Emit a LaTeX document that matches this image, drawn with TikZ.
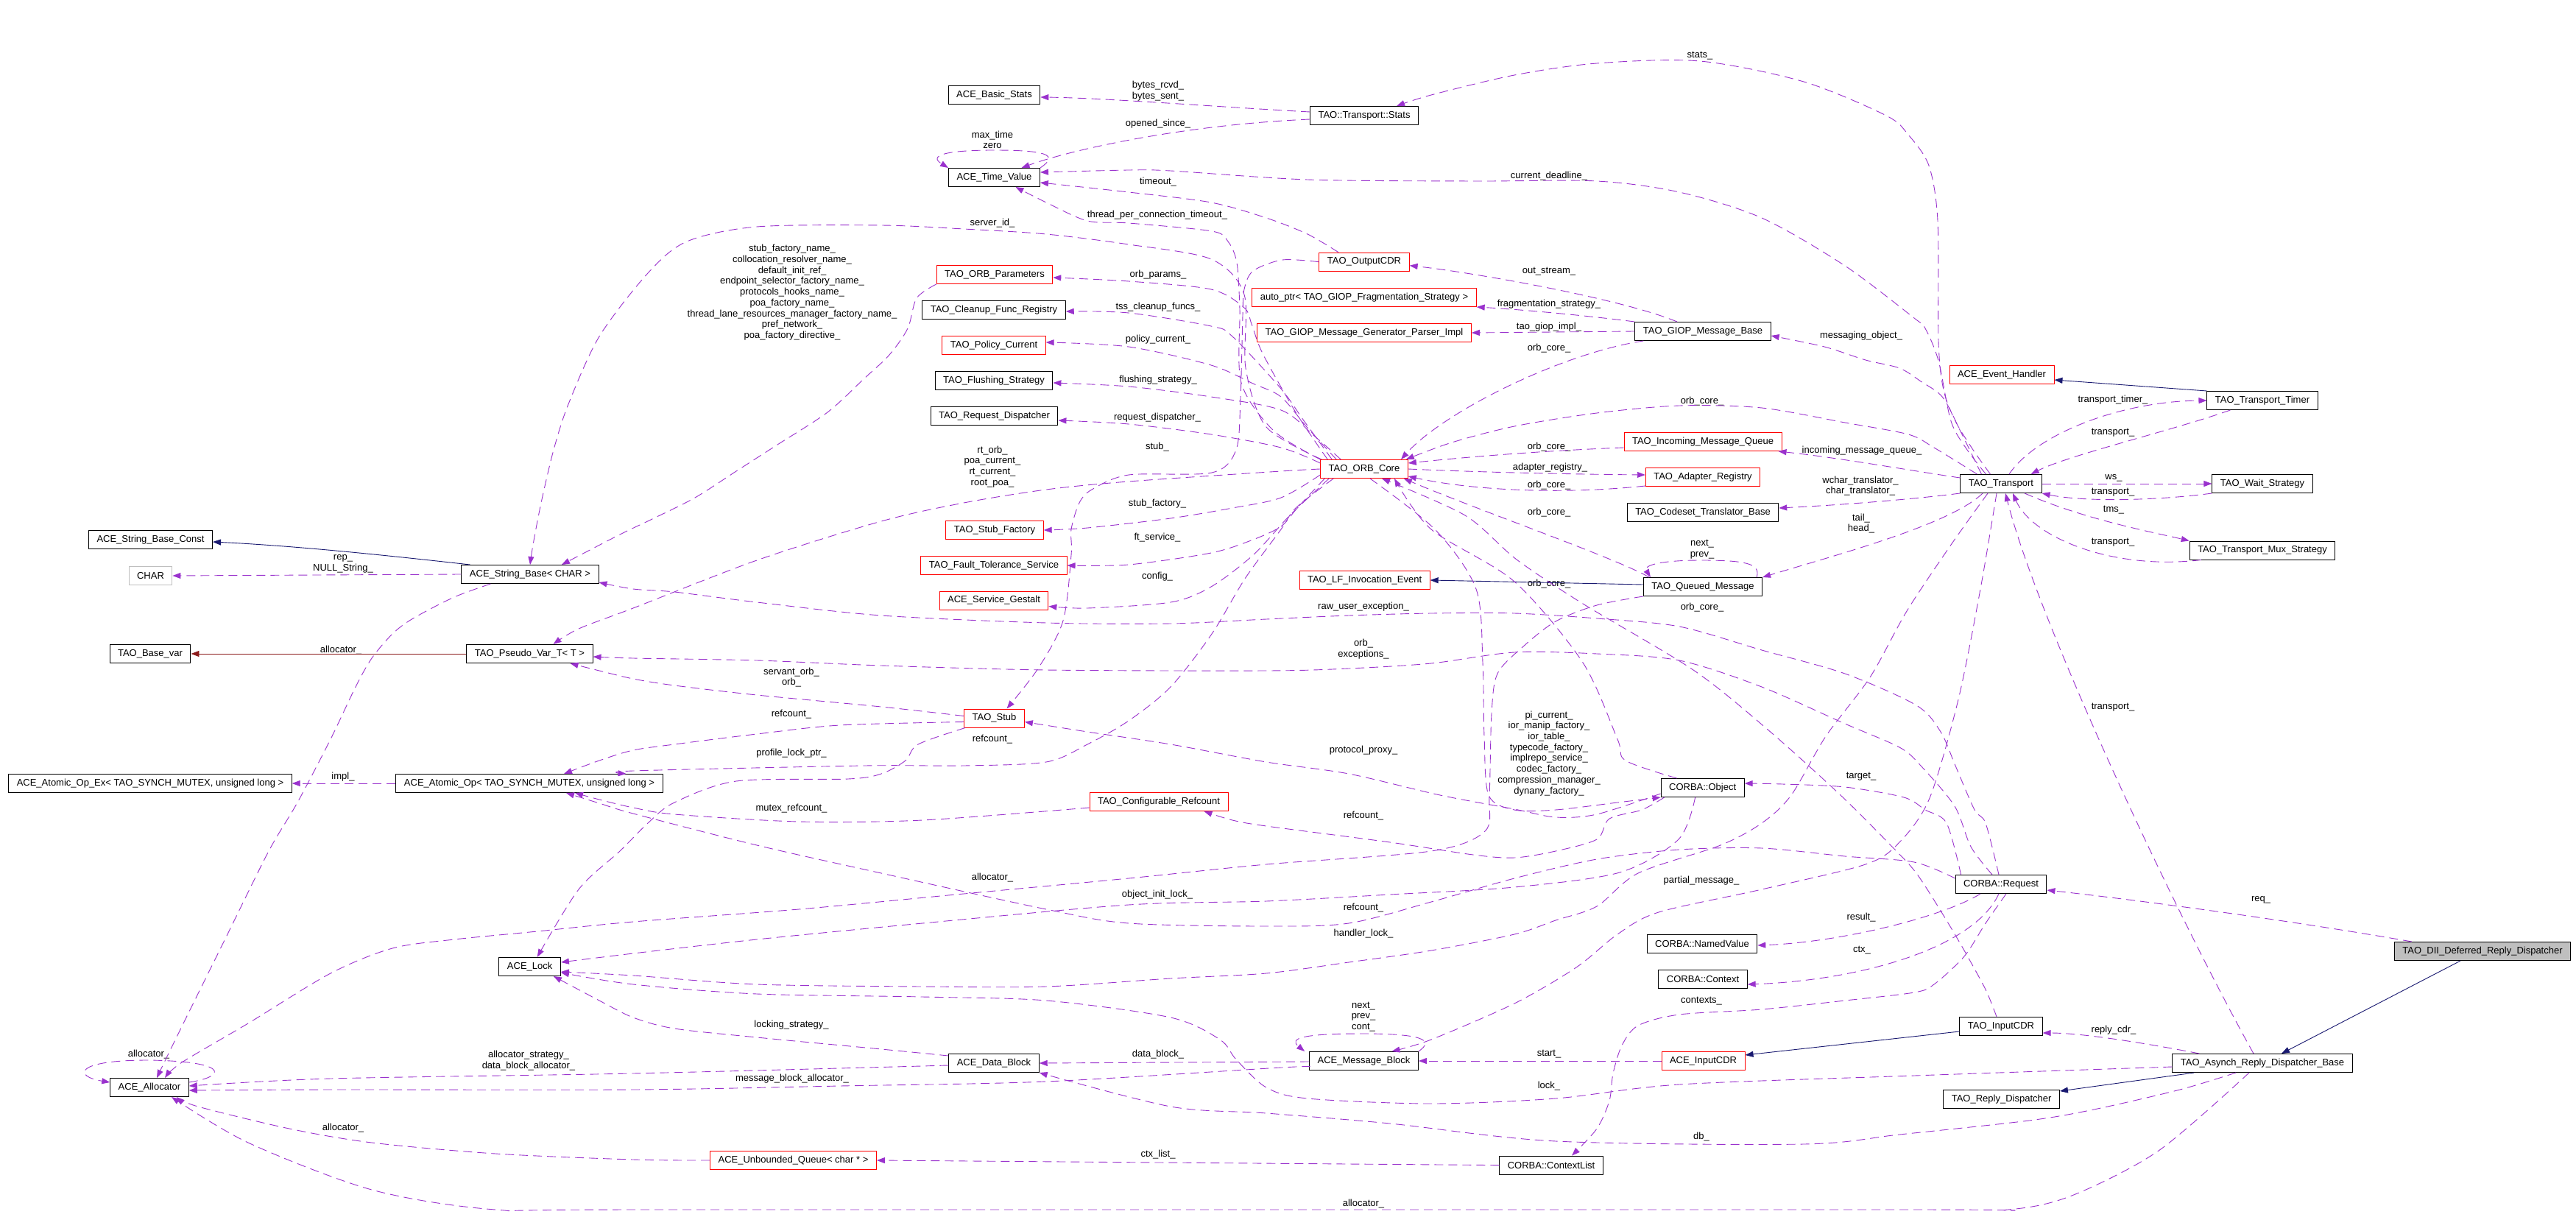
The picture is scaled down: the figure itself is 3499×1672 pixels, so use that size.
\documentclass[tikz,border=0pt]{standalone}
\usepackage{fontspec}
\setmainfont{Liberation Sans}
\usetikzlibrary{arrows.meta,calc}
\definecolor{edgepurple}{RGB}{154,50,205}
\definecolor{inheritblue}{RGB}{25,25,112}
\definecolor{privred}{RGB}{139,26,26}
\definecolor{grey75}{RGB}{191,191,191}

\begin{document}
\begin{tikzpicture}[
x=1pt,
y=-1pt,
every node/.style={font=\fontsize{13}{14.7}\selectfont},
cls/.style={draw=black, line width=1pt, minimum height=25pt, inner xsep=11pt, inner ysep=0pt},
redcls/.style={cls, draw=red},
greycls/.style={cls, draw=grey75},
rootcls/.style={cls, fill=grey75},
lbl/.style={inner sep=0pt, align=center},
member/.style={draw=edgepurple, line width=0.9pt, dash pattern=on 12pt off 7pt, -{Triangle[length=11pt,width=8pt]}},
inherit/.style={draw=inheritblue, line width=0.9pt, -{Triangle[length=11pt,width=8pt]}},
privinherit/.style={draw=privred, line width=0.9pt, -{Triangle[length=11pt,width=8pt]}}
]
\useasboundingbox (0,0) rectangle (3499,1672);

% classes
\node[cls] (strconst) at (204.5,733) {ACE\_String\_Base\_Const};
\node[greycls] (charnode) at (204.5,782) {CHAR};
\node[cls] (basevar) at (204,888) {TAO\_Base\_var};
\node[cls] (atomicex) at (204,1064) {ACE\_Atomic\_Op\_Ex< TAO\_SYNCH\_MUTEX, unsigned long >};
\node[cls] (allocator) at (203,1477) {ACE\_Allocator};

\node[cls] (strbase) at (720,780) {ACE\_String\_Base< CHAR >};
\node[cls] (pseudovar) at (719.5,888) {TAO\_Pseudo\_Var\_T< T >};
\node[cls] (atomic) at (719,1064) {ACE\_Atomic\_Op< TAO\_SYNCH\_MUTEX, unsigned long >};
\node[cls] (acelock) at (719.7,1313) {ACE\_Lock};
\node[redcls] (ubqueue) at (1077.5,1576) {ACE\_Unbounded\_Queue< char * >};

\node[cls] (basicstats) at (1350.5,129) {ACE\_Basic\_Stats};
\node[cls] (timevalue) at (1350.5,241) {ACE\_Time\_Value};
\node[redcls] (orbparams) at (1351,373) {TAO\_ORB\_Parameters};
\node[cls] (cleanup) at (1350,421) {TAO\_Cleanup\_Func\_Registry};
\node[redcls] (policycur) at (1350,469) {TAO\_Policy\_Current};
\node[cls] (flushing) at (1350,517) {TAO\_Flushing\_Strategy};
\node[cls] (reqdisp) at (1350.5,565) {TAO\_Request\_Dispatcher};
\node[redcls] (stubfact) at (1351,720) {TAO\_Stub\_Factory};
\node[redcls] (ftservice) at (1350,768) {TAO\_Fault\_Tolerance\_Service};
\node[redcls] (gestalt) at (1350,815.5) {ACE\_Service\_Gestalt};
\node[redcls] (stub) at (1350.5,975.5) {TAO\_Stub};
\node[redcls] (confref) at (1574,1089) {TAO\_Configurable\_Refcount};
\node[cls] (datablock) at (1350,1444) {ACE\_Data\_Block};

\node[cls] (tstats) at (1853,157) {TAO::Transport::Stats};
\node[redcls] (outcdr) at (1853,355.7) {TAO\_OutputCDR};
\node[redcls] (autoptr) at (1853,404) {auto\_ptr< TAO\_GIOP\_Fragmentation\_Strategy >};
\node[redcls] (genparser) at (1853,452) {TAO\_GIOP\_Message\_Generator\_Parser\_Impl};
\node[redcls] (orbcore) at (1853,637) {TAO\_ORB\_Core};
\node[redcls] (lfevent) at (1853.6,788) {TAO\_LF\_Invocation\_Event};
\node[cls] (msgblock) at (1852.5,1441) {ACE\_Message\_Block};

\node[cls] (giopbase) at (2313,450) {TAO\_GIOP\_Message\_Base};
\node[redcls] (incoming) at (2313,600) {TAO\_Incoming\_Message\_Queue};
\node[redcls] (adapter) at (2313,648) {TAO\_Adapter\_Registry};
\node[cls] (codeset) at (2313,696) {TAO\_Codeset\_Translator\_Base};
\node[cls] (queued) at (2313,797) {TAO\_Queued\_Message};
\node[cls] (corbaobj) at (2312.6,1070) {CORBA::Object};
\node[cls] (namedval) at (2312,1282) {CORBA::NamedValue};
\node[cls] (context) at (2313,1330) {CORBA::Context};
\node[redcls] (inputcdr) at (2313.5,1441) {ACE\_InputCDR};
\node[cls] (ctxlist) at (2107,1582.6) {CORBA::ContextList};

\node[redcls] (evhandler) at (2719,509) {ACE\_Event\_Handler};
\node[cls] (transport) at (2718,657) {TAO\_Transport};
\node[cls] (request) at (2718,1201) {CORBA::Request};
\node[cls] (taoinputcdr) at (2718,1394) {TAO\_InputCDR};
\node[cls] (replydisp) at (2718.6,1493) {TAO\_Reply\_Dispatcher};

\node[cls] (timer) at (3073,544) {TAO\_Transport\_Timer};
\node[cls] (waitstrat) at (3073,657) {TAO\_Wait\_Strategy};
\node[cls] (muxstrat) at (3073,747.5) {TAO\_Transport\_Mux\_Strategy};
\node[cls] (asynch) at (3073,1444) {TAO\_Asynch\_Reply\_Dispatcher\_Base};
\node[rootcls] (dii) at (3372,1292) {TAO\_DII\_Deferred\_Reply\_Dispatcher};

% edge labels
\node[lbl] (lstats) at (2309,76) {stats\_};
\node[lbl] (lbytes) at (1573,123.5) {bytes\_rcvd\_\\bytes\_sent\_};
\node[lbl] (lopened) at (1573,168) {opened\_since\_};
\node[lbl] (lmaxtime) at (1348,190) {max\_time\\zero};
\node[lbl] (ldeadline) at (2104,238.6) {current\_deadline\_};
\node[lbl] (ltimeout) at (1573,247.5) {timeout\_};
\node[lbl] (lthreadto) at (1572,291.8) {thread\_per\_connection\_timeout\_};
\node[lbl] (lserverid) at (1348,303.5) {server\_id\_};
\node[lbl] (lfactnames) at (1076,397.3) {stub\_factory\_name\_\\collocation\_resolver\_name\_\\default\_init\_ref\_\\endpoint\_selector\_factory\_name\_\\protocols\_hooks\_name\_\\poa\_factory\_name\_\\thread\_lane\_resources\_manager\_factory\_name\_\\pref\_network\_\\poa\_factory\_directive\_};
\node[lbl] (lorbparams) at (1573,373) {orb\_params\_};
\node[lbl] (loutstream) at (2104,368.5) {out\_stream\_};
\node[lbl] (ltss) at (1573,416.8) {tss\_cleanup\_funcs\_};
\node[lbl] (lfrag) at (2104,413) {fragmentation\_strategy\_};
\node[lbl] (lgiopimpl) at (2104,443.9) {tao\_giop\_impl\_};
\node[lbl] (lmessaging) at (2528,456) {messaging\_object\_};
\node[lbl] (lpolicy) at (1573,460.7) {policy\_current\_};
\node[lbl] (lcoregiop) at (2104,473.2) {orb\_core\_};
\node[lbl] (lflushing) at (1573,515.7) {flushing\_strategy\_};
\node[lbl] (ltimer) at (2870,543.5) {transport\_timer\_};
\node[lbl] (lcoretransport) at (2312,544.6) {orb\_core\_};
\node[lbl] (lreqdisp) at (1572,566.8) {request\_dispatcher\_};
\node[lbl] (ltrtimer) at (2870,587.5) {transport\_};
\node[lbl] (lcoreincoming) at (2104,606.8) {orb\_core\_};
\node[lbl] (lstub) at (1572,606.8) {stub\_};
\node[lbl] (lincoming) at (2529,611.7) {incoming\_message\_queue\_};
\node[lbl] (lrtorb) at (1348,633.7) {rt\_orb\_\\poa\_current\_\\rt\_current\_\\root\_poa\_};
\node[lbl] (ladapter) at (2105.5,635) {adapter\_registry\_};
\node[lbl] (lws) at (2871,649) {ws\_};
\node[lbl] (ltranslator) at (2527,660) {wchar\_translator\_\\char\_translator\_};
\node[lbl] (lcoreadapter) at (2104,658.6) {orb\_core\_};
\node[lbl] (ltrwait) at (2870,668.6) {transport\_};
\node[lbl] (lstubfact) at (1572,684.6) {stub\_factory\_};
\node[lbl] (ltms) at (2871,692.8) {tms\_};
\node[lbl] (lcorequeued) at (2104,695.7) {orb\_core\_};
\node[lbl] (ltailhead) at (2528,711) {tail\_\\head\_};
\node[lbl] (lft) at (1572,730.3) {ft\_service\_};
\node[lbl] (ltrmux) at (2870,736.8) {transport\_};
\node[lbl] (lqueuedloop) at (2312,745.8) {next\_\\prev\_};
\node[lbl] (lrep) at (466,765.6) {rep\_\\NULL\_String\_};
\node[lbl] (lconfig) at (1572,783.2) {config\_};
\node[lbl] (lcoreobj) at (2104,792.8) {orb\_core\_};
\node[lbl] (lrawexc) at (1852,824.6) {raw\_user\_exception\_};
\node[lbl] (lcorecdr) at (2312,824.6) {orb\_core\_};
\node[lbl] (lorbexc) at (1852,881.8) {orb\_\\exceptions\_};
\node[lbl] (lstralloc) at (463,882.8) {allocator\_};
\node[lbl] (lservant) at (1075,920) {servant\_orb\_\\orb\_};
\node[lbl] (ltrasynch) at (2870,960.7) {transport\_};
\node[lbl] (lrefstub) at (1075,970.3) {refcount\_};
\node[lbl] (lpicurrent) at (2104,1023.2) {pi\_current\_\\ior\_manip\_factory\_\\ior\_table\_\\typecode\_factory\_\\implrepo\_service\_\\codec\_factory\_\\compression\_manager\_\\dynany\_factory\_};
\node[lbl] (lrefcore) at (1348,1004) {refcount\_};
\node[lbl] (lproxy) at (1852,1019.6) {protocol\_proxy\_};
\node[lbl] (lprofile) at (1075,1022.8) {profile\_lock\_ptr\_};
\node[lbl] (ltarget) at (2528,1055) {target\_};
\node[lbl] (limpl) at (466,1055) {impl\_};
\node[lbl] (lmutex) at (1075,1098) {mutex\_refcount\_};
\node[lbl] (lrefobj) at (1852,1107.6) {refcount\_};
\node[lbl] (lqueuedalloc) at (1348,1192.5) {allocator\_};
\node[lbl] (lpartial) at (2311,1196) {partial\_message\_};
\node[lbl] (linitlock) at (1572,1215.6) {object\_init\_lock\_};
\node[lbl] (lreq) at (3071,1222.7) {req\_};
\node[lbl] (lrefreq) at (1852,1233) {refcount\_};
\node[lbl] (lresult) at (2528,1246.5) {result\_};
\node[lbl] (lhandler) at (1852,1268.4) {handler\_lock\_};
\node[lbl] (lctx) at (2529,1290.7) {ctx\_};
\node[lbl] (lcontexts) at (2311,1359.8) {contexts\_};
\node[lbl] (lblockloop) at (1852,1381) {next\_\\prev\_\\cont\_};
\node[lbl] (llocking) at (1075,1392) {locking\_strategy\_};
\node[lbl] (lreplycdr) at (2871,1399) {reply\_cdr\_};
\node[lbl] (lstart) at (2104,1431.5) {start\_};
\node[lbl] (lallocloop) at (202,1432) {allocator\_};
\node[lbl] (ldatablock) at (1573,1432) {data\_block\_};
\node[lbl] (lallocstrat) at (718,1440.5) {allocator\_strategy\_\\data\_block\_allocator\_};
\node[lbl] (lmballoc) at (1076,1464.8) {message\_block\_allocator\_};
\node[lbl] (llock) at (2104,1474.6) {lock\_};
\node[lbl] (lqueuealloc) at (466,1532) {allocator\_};
\node[lbl] (ldb) at (2311,1544.4) {db\_};
\node[lbl] (lctxlist) at (1573,1567.9) {ctx\_list\_};
\node[lbl] (lasynchalloc) at (1852,1635) {allocator\_};

% inheritance
\draw[inherit] ($(dii.south)+(-30,0)$) -- ($(asynch.north)+(26,0)$);
\draw[inherit] ($(asynch.south west)+(30,0)$) -- ($(replydisp.north east)+(0,2)$);
\draw[inherit] ($(taoinputcdr.west)+(0,7)$) -- ($(inputcdr.east)+(0,-8)$);
\draw[inherit] (timer.north west) -- ($(evhandler.east)+(0,7)$);
\draw[inherit] ($(queued.west)+(0,-3)$) -- (lfevent.east);
\draw[inherit] ($(strbase.north west)+(12,0)$) .. controls (505,752) and (393,741) .. ($(strconst.east)+(0,3)$);
\draw[privinherit] (pseudovar.west) -- (basevar.east);

% members of the dispatchers
\draw[member] ($(dii.north west)+(24,0)$) .. controls (3110,1250) and (2900,1222) .. ($(request.east)+(0,8)$);
\draw[member] ($(asynch.north west)+(37,0)$) .. controls (2920,1418) and (2830,1403) .. ($(taoinputcdr.east)+(0,9)$);
\draw[member] ($(asynch.north)+(-12,0)$) .. controls (2960,1250) and (2770,850) .. ($(transport.south)+(6,0)$);
\draw[member] plot[smooth] coordinates {($(asynch.west)+(0,5)$) (2600,1461) (2281,1473) (2113,1492) (1944,1499) (1776,1492) (1720,1477) (1679,1439) (1657,1412) (1590,1382) (1421,1359) (1253,1354) (1028,1350) (860,1337) ($(acelock.east)+(0,8)$)};
\draw[member] plot[smooth] coordinates {($(asynch.south)+(-36,0)$) (2961,1480) (2844,1507) (2756,1522) (2580,1541) (2450,1554) (2113,1550) (1888,1526) (1720,1512) (1590,1503) (datablock.south east)};
\draw[member] plot[smooth] coordinates {($(asynch.south)+(-18,0)$) (2932,1563) (2814,1624) (2727,1643) (2580,1643) (880,1643) (673,1643) (505,1616) (337,1552) ($(allocator.south)+(30,0)$)};

% members of the transport
\draw[member] ($(timer.south west)+(32,0)$) .. controls (2950,585) and (2810,618) .. ($(transport.north east)+(-15,0)$);
\draw[member] ($(transport.north)+(11,0)$) .. controls (2765,590) and (2880,545) .. (timer.west);
\draw[member] (transport.east) -- (waitstrat.west);
\draw[member] (waitstrat.south west) .. controls (2930,680) and (2830,682) .. (transport.south east);
\draw[member] ($(transport.south)+(32,0)$) .. controls (2830,705) and (2920,722) .. (muxstrat.north west);
\draw[member] ($(muxstrat.south west)+(16,0)$) .. controls (2870,775) and (2760,730) .. ($(transport.south)+(16,0)$);
\draw[member] plot[smooth] coordinates {($(transport.north west)+(41,0)$) (2680,611) (2656,572) (2640,530) (2633,464) (2632,300) (2620,225) (2592,183) (2562,157) (2450,111) (2309,83) (2169,86) (2057,102) (1944,129) ($(tstats.north)+(44,0)$)};
\draw[member] plot[smooth] coordinates {($(transport.north west)+(35,0)$) (2672,611) (2650,572) (2633,490) (2615,446) (2600,432) (2506,361) (2393,296) (2281,261) (2169,246) (2001,246) (1776,244) (1590,232) (1533,231) ($(timevalue.east)+(0,-7)$)};
\draw[member] plot[smooth] coordinates {($(transport.north west)+(29,0)$) (2665,590) (2639,540) (2609,518) (2580,500) (2534,489) (2478,471) ($(giopbase.east)+(0,6)$)};
\draw[member] plot[smooth] coordinates {($(transport.north west)+(23,0)$) (2627,608) (2592,590) (2506,574) (2393,554) (2281,551) (2169,561) (2057,579) (1972,601) ($(orbcore.north east)+(-3,0)$)};
\draw[member] ($(transport.west)+(0,-8)$) .. controls (2600,640) and (2500,622) .. ($(incoming.south east)+(-5,0)$);
\draw[member] (transport.south west) .. controls (2600,678) and (2500,686) .. ($(codeset.east)+(0,-6)$);
\draw[member] ($(transport.south)+(-25,0)$) .. controls (2650,712) and (2500,752) .. (queued.north east);
\draw[member] plot[smooth] coordinates {($(transport.south)+(-18,0)$) (2650,740) (2590,830) (2540,920) (2480,1000) (2433,1080) (2393,1118) (2337,1148) (2225,1186) (2169,1231) (2113,1250) (2057,1269) (1944,1291) (1832,1307) (1720,1322) (1590,1329) (1421,1340) (1253,1340) (1028,1337) (860,1325) ($(acelock.east)+(0,7)$)};
\draw[member] plot[smooth] coordinates {($(transport.south)+(-6,0)$) (2690,800) (2660,950) (2621,1084) (2580,1144) (2534,1174) (2393,1208) (2253,1239) (2197,1269) (2141,1314) (2057,1363) (1944,1412) ($(msgblock.north)+(38,0)$)};

% members of the GIOP message base
\draw[member] ($(giopbase.north)+(-35,0)$) .. controls (2200,405) and (2000,370) .. ($(outcdr.east)+(0,5)$);
\draw[member] (giopbase.north west) .. controls (2150,428) and (2060,420) .. (autoptr.south east);
\draw[member] (giopbase.west) -- (genparser.east);
\draw[member] ($(giopbase.south west)+(12,0)$) .. controls (2120,480) and (1960,560) .. ($(orbcore.north)+(50,0)$);

% orb_core_ of the others
\draw[member] ($(incoming.west)+(0,8)$) .. controls (2100,612) and (2000,620) .. ($(orbcore.east)+(0,-8)$);
\draw[member] (orbcore.east) .. controls (2000,641) and (2120,644) .. ($(adapter.west)+(0,-3)$);
\draw[member] ($(adapter.west)+(0,12)$) .. controls (2120,672) and (2000,666) .. ($(orbcore.east)+(0,10)$);
\draw[member] ($(queued.north west)+(8,0)$) .. controls (2200,760) and (2000,690) .. ($(orbcore.south east)+(-6,0)$);
\draw[member] plot[smooth] coordinates {($(corbaobj.north)+(-35,0)$) (2208,1033) (2197,1004) (2150,900) (2057,790) (1944,719) ($(orbcore.south)+(41,0)$)};
\draw[member] plot[smooth] coordinates {($(taoinputcdr.north)+(-6,0)$) (2697,1344) (2668,1291) (2639,1242) (2603,1186) (2570,1150) (2500,1080) (2400,990) (2300,910) (2150,820) (2060,760) (1990,700) ($(orbcore.south)+(24,0)$)};

% members of the ORB core
\draw[member] plot[smooth] coordinates {($(orbcore.north west)+(10,0)$) (1760,560) (1715,480) (1700,440) (1690,418) (1645,393) (1533,382) ($(orbparams.east)+(0,4)$)};
\draw[member] plot[smooth] coordinates {($(orbcore.north west)+(16,0)$) (1770,570) (1740,528) (1674,457) (1645,443) (1533,425) ($(cleanup.east)+(0,2)$)};
\draw[member] plot[smooth] coordinates {($(orbcore.north west)+(22,0)$) (1775,580) (1740,539) (1702,521) (1645,496) (1533,471) ($(policycur.east)+(0,-4)$)};
\draw[member] plot[smooth] coordinates {($(orbcore.north west)+(28,0)$) (1785,592) (1740,557) (1645,539) (1533,525) ($(flushing.east)+(0,3)$)};
\draw[member] plot[smooth] coordinates {($(orbcore.west)+(0,-8)$) (1740,608) (1645,590) (1533,576) ($(reqdisp.east)+(0,6)$)};
\draw[member] plot[smooth] coordinates {($(orbcore.west)+(0,8)$) (1740,676) (1674,690) (1590,704) (1477,717) (stubfact.east)};
\draw[member] plot[smooth] coordinates {($(orbcore.south west)+(6,0)$) (1762,690) (1740,715) (1702,733) (1645,751) (1533,767) (ftservice.east)};
\draw[member] plot[smooth] coordinates {($(orbcore.south west)+(12,0)$) (1752,700) (1702,754) (1645,797) (1590,818) (1477,826) ($(gestalt.east)+(0,8)$)};
\draw[member] plot[smooth] coordinates {(orbcore.west) (1740,640) (1533,654) (1421,665) (1309,683) (1197,708) (1028,761) (860,826) (786,854) ($(pseudovar.north)+(32,0)$)};
\draw[member] plot[smooth] coordinates {($(orbcore.north west)+(2,0)$) (1720,580) (1692,500) (1690,400) (1645,352) (1533,332) (1421,318) (1309,311) (1197,306) (1028,308) (933,328) (880,371) (814,457) (772,549) (752,611) (735,683) (724,740) (strbase.north)};
\draw[member] plot[smooth] coordinates {(orbcore.north west) (1730,585) (1686,520) (1684,420) (1680,357) (1668,328) (1646,314) (1533,303) (1477,300) (1421,275) ($(timevalue.south)+(29,0)$)};
\draw[member] plot[smooth] coordinates {($(orbcore.south west)+(18,0)$) (1760,690) (1740,719) (1691,786) (1646,861) (1590,933) (1533,979) (1477,1011) (1421,1035) (1309,1040) (1174,1040) (860,1047) ($(atomic.north east)+(-50,0)$)};
\draw[member] plot[smooth] coordinates {($(orbcore.south)+(8,0)$) (1950,720) (2005,800) (2014,900) (2016,1000) (2022,1080) (2057,1100) (2113,1100) (2197,1090) (corbaobj.south west)};

% members of the output CDR and the stats
\draw[member] plot[smooth] coordinates {(outcdr.west) (1742,353) (1702,368) (1690,393) (1688,428) (1685,540) (1679,611) (1646,642) (1533,645) (1483,665) (1466,683) (1455,719) (1455,754) (1444,843) (1410,908) ($(stub.north)+(17,0)$)};
\draw[member] plot[smooth] coordinates {($(outcdr.north)+(-35,0)$) (1776,318) (1720,296) (1645,275) (1533,261) ($(timevalue.east)+(0,7)$)};
\draw[member] ($(tstats.west)+(0,5)$) .. controls (1600,170) and (1450,205) .. ($(timevalue.north)+(37,0)$);
\draw[member] ($(tstats.west)+(0,-5)$) .. controls (1650,145) and (1500,133) .. ($(basicstats.east)+(0,3)$);
\draw[member] (timevalue.north east) .. controls (1440,210) and (1420,204) .. (1350,204) .. controls (1280,204) and (1262,212) .. (timevalue.north west);

% members of the string, var and atomic classes
\draw[member] (strbase.west) -- (charnode.east);
\draw[member] (atomic.west) -- (atomicex.east);
\draw[member] plot[smooth] coordinates {(orbparams.south west) (1245,405) (1233,446) (1208,482) (1174,514) (1124,560) (1056,604) (1000,640) (944,676) (888,704) (842,726) ($(strbase.north)+(43,0)$)};
\draw[member] plot[smooth] coordinates {($(strbase.south west)+(40,0)$) (617,811) (561,840) (533,861) (505,894) (483,933) (449,1004) (404,1090) (365,1156) (309,1269) (253,1382) (225,1439) ($(allocator.north)+(10,0)$)};

% members of the stub
\draw[member] plot[smooth] coordinates {($(stub.west)+(0,-3)$) (1197,960) (1028,944) (916,931) (860,922) (814,911) ($(pseudovar.south)+(55,0)$)};
\draw[member] plot[smooth] coordinates {($(stub.west)+(0,5)$) (1141,985) (1028,997) (916,1011) (860,1019) (814,1033) ($(atomic.north)+(47,0)$)};
\draw[member] plot[smooth] coordinates {($(stub.south west)+(2,0)$) (1247,1011) (1230,1033) (1197,1051) (1152,1058) (1000,1061) (916,1090) (880,1118) (842,1156) (786,1208) ($(acelock.north)+(10,0)$)};
\draw[member] plot[smooth] coordinates {($(confref.west)+(0,8)$) (1253,1114) (1085,1116) (916,1106) (860,1097) (814,1086) ($(atomic.south)+(62,0)$)};

% members of CORBA::Object
\draw[member] plot[smooth] coordinates {($(corbaobj.south west)+(5,0)$) (2230,1100) (2186,1112) (2169,1140) (2113,1156) (2057,1165) (2001,1161) (1888,1144) (1720,1122) (1674,1114) ($(confref.south east)+(-33,0)$)};
\draw[member] plot[smooth] coordinates {($(corbaobj.south)+(-10,0)$) (2280,1140) (2200,1185) (2057,1205) (1888,1215) (1720,1224) (1533,1229) (1253,1254) (1028,1276) (860,1295) ($(acelock.east)+(0,-6)$)};
\draw[member] plot[smooth] coordinates {($(corbaobj.west)+(0,8)$) (2169,1106) (2113,1110) (2057,1099) (1956,1080) (1832,1051) (1720,1035) (1590,1011) (1477,994) ($(stub.east)+(0,5)$)};

% members of CORBA::Request
\draw[member] plot[smooth] coordinates {($(request.north west)+(8,0)$) (2644,1118) (2615,1100) (2586,1083) (2506,1069) (2421,1065) ($(corbaobj.east)+(0,-6)$)};
\draw[member] ($(request.south)+(-28,0)$) .. controls (2640,1245) and (2500,1280) .. ($(namedval.east)+(0,2)$);
\draw[member] ($(request.south)+(-3,0)$) .. controls (2680,1290) and (2520,1332) .. ($(context.east)+(0,7)$);
\draw[member] plot[smooth] coordinates {($(request.south)+(7,0)$) (2697,1254) (2668,1299) (2627,1337) (2600,1348) (2506,1359) (2393,1371) (2281,1378) (2225,1393) (2203,1420) (2191,1458) (2186,1495) (2169,1533) ($(ctxlist.north)+(28,0)$)};
\draw[member] plot[smooth] coordinates {($(request.north)+(-3,0)$) (2697,1118) (2682,1100) (2656,1040) (2636,994) (2603,958) (2506,915) (2393,883) (2281,851) (2169,840) (2057,833) (1944,833) (1832,836) (1720,841) (1590,847) (1421,846) (1197,836) (1028,818) (916,804) (860,800) ($(strbase.east)+(0,11)$)};
\draw[member] plot[smooth] coordinates {($(request.north)+(-12,0)$) (2677,1150) (2655,1095) (2609,1040) (2580,1015) (2506,983) (2393,933) (2281,897) (2169,888) (2057,886) (1944,901) (1832,908) (1720,911) (1421,910) (1197,904) (1028,897) (860,894) ($(pseudovar.east)+(0,4)$)};
\draw[member] plot[smooth] coordinates {($(request.west)+(0,-8)$) (2600,1171) (2506,1163) (2393,1152) (2281,1154) (2169,1167) (2057,1193) (1944,1225) (1832,1254) (1720,1258) (1533,1254) (1421,1235) (1197,1186) (1028,1148) (860,1105) (814,1091) ($(atomic.south)+(50,0)$)};

% members of the CDR streams and blocks
\draw[member] (inputcdr.west) -- (msgblock.east);
\draw[member] ($(msgblock.west)+(0,1)$) -- (datablock.east);
\draw[member] plot[smooth] coordinates {($(msgblock.west)+(0,8)$) (1740,1450) (1421,1469) (1141,1475) (860,1480) (449,1480) ($(allocator.east)+(0,4)$)};
\draw[member] plot[smooth] coordinates {($(datablock.west)+(0,3)$) (860,1458) (449,1465) ($(allocator.east)+(0,-2)$)};
\draw[member] plot[smooth] coordinates {($(datablock.north west)+(0,3)$) (1197,1425) (1028,1409) (916,1397) (860,1382) (814,1359) ($(acelock.south east)+(-10,0)$)};
\draw[member] (msgblock.north east) .. controls (1950,1412) and (1930,1404) .. (1850,1404) .. controls (1770,1404) and (1750,1410) .. ($(msgblock.north west)+(-6,0)$);
\draw[member] ($(queued.north east)+(-8,0)$) .. controls (2392,765) and (2370,761) .. (2310,761) .. controls (2255,761) and (2232,768) .. ($(queued.north west)+(10,0)$);
\draw[member] plot[smooth] coordinates {(queued.south west) (2169,822) (2113,844) (2068,879) (2034,915) (2026,969) (2023,1080) (2017,1129) (1944,1156) (1720,1174) (1533,1193) (1309,1214) (1085,1235) (860,1252) (730,1265) (617,1276) (533,1288) (449,1322) (337,1390) (247,1443) ($(allocator.north)+(21,0)$)};

% allocators and lists
\draw[member] (ctxlist.west) -- (ubqueue.east);
\draw[member] plot[smooth] coordinates {(ubqueue.west) (860,1575) (673,1567) (505,1552) (393,1533) (269,1503) ($(allocator.south east)+(-17,0)$)};
\draw[member] ($(allocator.east)+(0,-7)$) .. controls (310,1462) and (310,1441) .. (200,1440) .. controls (100,1440) and (100,1462) .. ($(allocator.west)+(0,-7)$);
\end{tikzpicture}
\end{document}
